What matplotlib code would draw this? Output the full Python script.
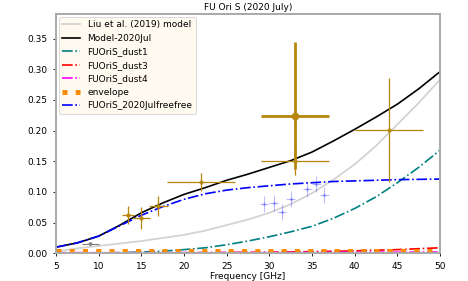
import matplotlib
matplotlib.use('Agg')
import matplotlib.pyplot as plt

# model curves, sampled every 2.5 GHz
freq = [5, 7.5, 10, 12.5, 15, 17.5, 20, 22.5, 25, 27.5, 30, 32.5, 35, 37.5, 40, 42.5, 45, 47.5, 50]
liu2019 = [0.003, 0.008, 0.012, 0.016, 0.020, 0.025, 0.030, 0.037, 0.046, 0.055, 0.066, 0.080,
           0.098, 0.120, 0.145, 0.175, 0.210, 0.245, 0.283]
model_jul = [0.010, 0.017, 0.028, 0.046, 0.066, 0.082, 0.096, 0.107, 0.119, 0.129, 0.140, 0.151,
             0.165, 0.183, 0.202, 0.222, 0.243, 0.268, 0.296]
dust1 = [0.0, 0.0002, 0.0005, 0.001, 0.002, 0.0035, 0.006, 0.009, 0.014, 0.020, 0.027, 0.035,
         0.044, 0.057, 0.073, 0.092, 0.115, 0.140, 0.168]
dust3 = [0.0003, 0.0003, 0.0004, 0.0005, 0.0006, 0.0007, 0.0008, 0.001, 0.0012, 0.0015, 0.0018,
         0.0022, 0.0027, 0.0033, 0.004, 0.005, 0.006, 0.0075, 0.009]
dust4 = [0.001, 0.001, 0.001, 0.001, 0.001, 0.001, 0.0011, 0.0011, 0.0012, 0.0012, 0.0013,
         0.0013, 0.0014, 0.0015, 0.0016, 0.0017, 0.0018, 0.0019, 0.002]
envelope = [0.004, 0.004, 0.004, 0.004, 0.004, 0.004, 0.004, 0.004, 0.004, 0.004, 0.004,
            0.004, 0.004, 0.004, 0.004, 0.004, 0.004, 0.004, 0.004]
freefree = [0.010, 0.017, 0.028, 0.045, 0.062, 0.076, 0.088, 0.097, 0.103, 0.107, 0.110, 0.113,
            0.115, 0.117, 0.118, 0.119, 0.120, 0.1205, 0.121]

# measured fluxes (thin gold points)
obs_f = [13.4, 15.0, 17.0, 22.0, 33.0, 44.0]
obs_flux = [0.0625, 0.057, 0.077, 0.116, 0.150, 0.2015]
obs_ferr = [0.7, 1.0, 1.1, 4.0, 4.0, 4.0]
obs_err = [0.015, 0.018, 0.016, 0.015, 0.022, 0.085]

# Ka band highlight point (thick)
ka_f = [33.0]
ka_flux = [0.224]
ka_ferr = [4.0]
ka_err_lo = [0.086]
ka_err_hi = [0.121]

# X band upper limit
xb_f = [9.0]
xb_flux = [0.015]
xb_ferr = [1.0]

# faint blue VLA points
vla_f = [29.4, 30.5, 31.45, 32.5, 34.45, 35.5, 36.45]
vla_flux = [0.0806, 0.0827, 0.067, 0.088, 0.1046, 0.113, 0.095]
vla_ferr = [0.5, 0.5, 0.5, 0.5, 0.5, 0.5, 0.5]
vla_err = [0.013, 0.013, 0.013, 0.013, 0.013, 0.013, 0.013]

plt.rcParams['font.size'] = 6.5

fig = plt.figure(figsize=(4.68, 2.81), dpi=100)
ax = fig.add_axes([0.1197, 0.0986, 0.8205, 0.8516])

ax.plot(freq, liu2019, color='lightgray', lw=1.3, label='Liu et al. (2019) model')
ax.plot(freq, model_jul, color='black', lw=1.2, label='Model-2020Jul')
ax.plot(freq, dust1, color='teal', lw=1.2, ls='-.', label='FUOriS_dust1')
ax.plot(freq, dust3, color='red', lw=1.2, ls='-.', label='FUOriS_dust3')
ax.plot(freq, dust4, color='magenta', lw=1.2, ls='-.', label='FUOriS_dust4')
ax.plot(freq, envelope, color='darkorange', lw=3.6, ls=':', label='envelope')
ax.plot(freq, freefree, color='blue', lw=1.2, ls='-.', label='FUOriS_2020Julfreefree')

ax.errorbar(vla_f, vla_flux, xerr=vla_ferr, yerr=vla_err, fmt='+', ms=3, color='blue',
            alpha=0.25, lw=0.8)
ax.errorbar(xb_f, xb_flux, xerr=xb_ferr, fmt='v', ms=2, color='gray', lw=0.8)
ax.errorbar(obs_f, obs_flux, xerr=obs_ferr, yerr=obs_err, fmt='o', ms=2,
            color='darkgoldenrod', lw=0.9)
ax.errorbar(ka_f, ka_flux, xerr=ka_ferr, yerr=[ka_err_lo, ka_err_hi], fmt='o', ms=4.5,
            color='darkgoldenrod', lw=2)

ax.set_xlim(5, 50)
ax.set_ylim(0, 0.39)
ax.set_xticks(range(5, 51, 5))
ax.set_yticks([0.0, 0.05, 0.10, 0.15, 0.20, 0.25, 0.30, 0.35])
ax.yaxis.set_major_formatter(matplotlib.ticker.FormatStrFormatter('%.2f'))
ax.tick_params(labelsize=6.5, length=2.5, width=0.6)
for s in ax.spines.values():
    s.set_color('darkgray')
    s.set_linewidth(1.4)

ax.set_xlabel('Frequency [GHz]', labelpad=1)
ax.set_title('FU Ori S (2020 July)', fontsize=6.5, pad=3)
leg = ax.legend(loc='upper left', facecolor='floralwhite', framealpha=1, edgecolor='lightgray',
                fontsize=6.5, borderaxespad=0.3)
leg.get_frame().set_linewidth(0.6)

plt.savefig('out.png', dpi=100)
plt.close()
